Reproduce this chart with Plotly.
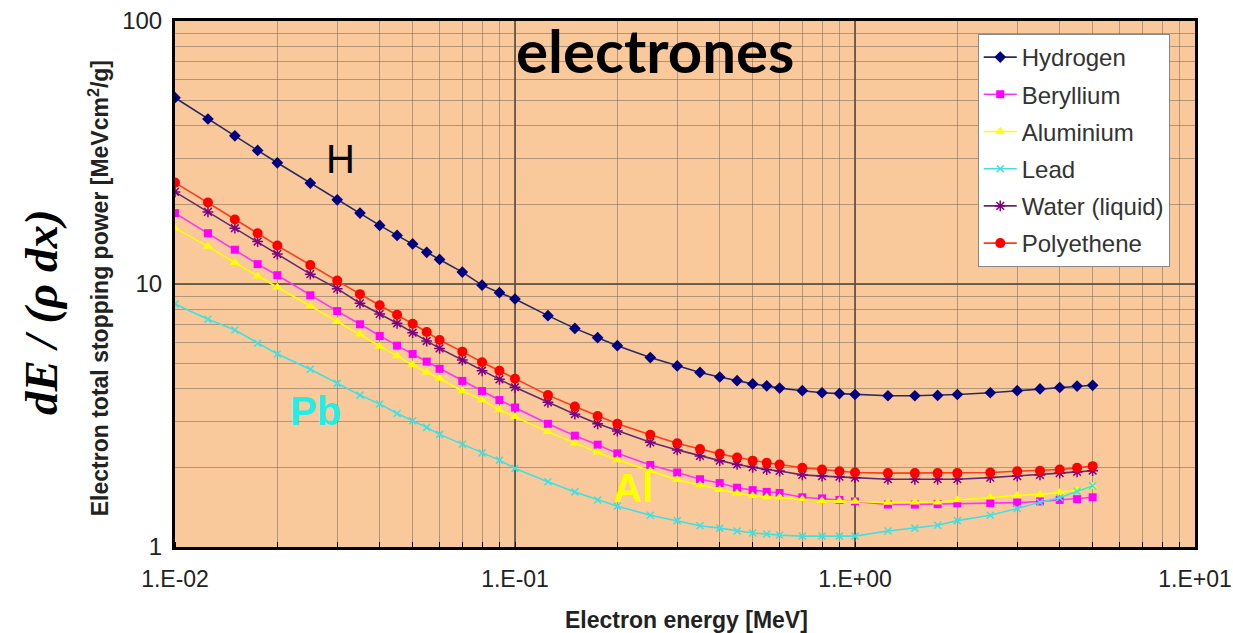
import plotly.graph_objects as go

# Electron energy [MeV]
energy = [0.01, 0.0125, 0.015, 0.0175, 0.02, 0.025, 0.03, 0.035, 0.04, 0.045,
          0.05, 0.055, 0.06, 0.07, 0.08, 0.09, 0.1, 0.125, 0.15, 0.175, 0.2,
          0.25, 0.3, 0.35, 0.4, 0.45, 0.5, 0.55, 0.6, 0.7, 0.8, 0.9, 1.0,
          1.25, 1.5, 1.75, 2.0, 2.5, 3.0, 3.5, 4.0, 4.5, 5.0]

# Total stopping power [MeV cm2/g]
hydrogen = [51.1, 42.4, 36.6, 32.2, 28.9, 24.2, 20.9, 18.6, 16.7, 15.3, 14.2, 13.2,
            12.4, 11.1, 9.9, 9.27, 8.77,
            7.58, 6.78, 6.25, 5.83, 5.25, 4.88, 4.61, 4.43, 4.29, 4.17, 4.10, 4.02,
            3.93, 3.86, 3.83, 3.80,
            3.76, 3.76, 3.77, 3.80, 3.86, 3.93, 3.99, 4.04, 4.09, 4.12]
beryllium = [18.6, 15.6, 13.5, 11.9, 10.8, 9.06, 7.89, 7.03, 6.34, 5.83, 5.42, 5.07,
             4.76, 4.28, 3.92, 3.62, 3.39,
             2.94, 2.65, 2.45, 2.27, 2.05, 1.92, 1.81, 1.75, 1.68, 1.645, 1.62, 1.605,
             1.545, 1.53, 1.51, 1.49,
             1.45, 1.45, 1.455, 1.465, 1.47, 1.475, 1.49, 1.51, 1.52, 1.545]
aluminium = [16.3, 13.9, 12.05, 10.7, 9.72, 8.25, 7.19, 6.44, 5.78, 5.32, 4.92, 4.62,
             4.37, 3.92, 3.62, 3.32, 3.13,
             2.74, 2.48, 2.29, 2.14, 1.95, 1.80, 1.72, 1.65, 1.60, 1.565, 1.55, 1.545,
             1.52, 1.50, 1.50, 1.49,
             1.475, 1.48, 1.48, 1.51, 1.545, 1.57, 1.585, 1.61, 1.65, 1.70]
lead = [8.39, 7.34, 6.68, 5.95, 5.42, 4.74, 4.19, 3.78, 3.50, 3.22, 3.02, 2.85,
        2.68, 2.46, 2.28, 2.14, 1.99,
        1.77, 1.62, 1.51, 1.43, 1.32, 1.26, 1.205, 1.18, 1.15, 1.13, 1.12, 1.11,
        1.10, 1.10, 1.10, 1.10,
        1.15, 1.18, 1.21, 1.26, 1.32, 1.40, 1.48, 1.54, 1.63, 1.71]
water = [22.4, 18.8, 16.3, 14.5, 13.0, 10.9, 9.6, 8.45, 7.69, 7.09, 6.53, 6.07,
         5.69, 5.14, 4.68, 4.34, 4.05,
         3.55, 3.20, 2.94, 2.76, 2.50, 2.34, 2.22, 2.13, 2.06, 2.01, 1.97, 1.945,
         1.88, 1.86, 1.85, 1.835,
         1.81, 1.81, 1.81, 1.81, 1.836, 1.86, 1.88, 1.91, 1.93, 1.95]
polyethene = [24.3, 20.4, 17.6, 15.6, 14.0, 11.8, 10.3, 9.15, 8.30, 7.64, 7.06, 6.57,
              6.12, 5.53, 5.04, 4.68, 4.36,
              3.78, 3.42, 3.15, 2.94, 2.67, 2.48, 2.36, 2.26, 2.19, 2.13, 2.09, 2.06,
              2.00, 1.97, 1.94, 1.92,
              1.91, 1.91, 1.91, 1.91, 1.92, 1.94, 1.95, 1.97, 2.00, 2.03]

series_names = ["Hydrogen", "Beryllium", "Aluminium", "Lead", "Water (liquid)", "Polyethene"]
series_values = [hydrogen, beryllium, aluminium, lead, water, polyethene]

x_tickvals = [0.01, 0.1, 1, 10]
x_ticktext = ["1.E-02", "1.E-01", "1.E+00", "1.E+01"]
y_tickvals = [1, 10, 100]
y_ticktext = ["1", "10", "100"]

styles = [
    dict(line=dict(color="#2a2a60", width=1.6),
         marker=dict(symbol="diamond", size=9, color="#000080")),
    dict(line=dict(color="#ff33ff", width=1.6),
         marker=dict(symbol="square", size=8, color="#ff00ff")),
    dict(line=dict(color="#ffff00", width=1.6),
         marker=dict(symbol="triangle-up", size=9, color="#ffff00")),
    dict(line=dict(color="#40e0e0", width=1.6),
         marker=dict(symbol="x-thin-open", size=7, color="#40e0e0",
                     line=dict(color="#40e0e0", width=1.5))),
    dict(line=dict(color="#6a2a6a", width=1.6),
         marker=dict(symbol="asterisk-open", size=9, color="#800080",
                     line=dict(color="#800080", width=1.5))),
    dict(line=dict(color="#ff3b1a", width=1.6),
         marker=dict(symbol="circle", size=10, color="#ff0000")),
]

fig = go.Figure()
for i, (name, vals) in enumerate(zip(series_names, series_values)):
    fig.add_trace(go.Scatter(x=energy, y=vals, name=name, mode="lines+markers",
                             legendgroup=f"g{i}", **styles[i]))

x_font = dict(family="Liberation Sans, Arial", size=23, color="#222222")
y_font = dict(family="Liberation Sans, Arial", size=24, color="#222222")
major_grid = "rgba(95,80,65,0.85)"
minor_grid = "rgba(120,105,90,0.55)"

fig.update_layout(
    width=1233, height=633,
    margin=dict(l=175, r=38, t=21, b=86),
    paper_bgcolor="white",
    plot_bgcolor="#f9c99b",
    showlegend=True,
    legend=dict(x=0.787, y=0.9753, xanchor="left", yanchor="top",
                bgcolor="white", bordercolor="#888888", borderwidth=1,
                font=dict(family="Liberation Sans, Arial", size=24, color="#333333"),
                itemwidth=33, tracegroupgap=3),
    xaxis=dict(type="log", range=[-2, 1], tickmode="array", automargin=False,
               tickvals=x_tickvals, ticktext=x_ticktext, tickfont=x_font,
               ticks="", ticklabelstandoff=9, ticklabeloverflow="allow",
               showgrid=True, gridcolor=major_grid, gridwidth=1.6,
               minor=dict(dtick="D1", showgrid=True, gridcolor=minor_grid, gridwidth=1,
                          ticks="inside", ticklen=5, tickcolor="black"),
               showline=True, linecolor="black", linewidth=3, mirror=True,
               zeroline=False),
    yaxis=dict(type="log", range=[0, 2], tickmode="array", automargin=False,
               tickvals=y_tickvals, ticktext=y_ticktext, tickfont=y_font,
               ticks="", ticklabelstandoff=5, ticklabeloverflow="allow",
               showgrid=True, gridcolor=major_grid, gridwidth=1.6,
               minor=dict(dtick="D1", showgrid=True, gridcolor=minor_grid, gridwidth=1),
               showline=True, linecolor="black", linewidth=3, mirror=True,
               zeroline=False),
)

def note(text, x, y, size, color="black", family="Liberation Sans, Arial", angle=0):
    return dict(text=text, x=x, y=y, xref="paper", yref="paper", showarrow=False,
                xanchor="center", yanchor="middle", textangle=angle,
                font=dict(family=family, size=size, color=color))

annotations = [
    note("<b>electrones</b>", 0.4706, 0.9443, 60, family="Lato"),
    note("H", 0.1618, 0.738, 40),
    note("<b>Pb</b>", 0.1382, 0.2593, 40, color="#22eee6"),
    note("<b>Al</b>", 0.449, 0.1122, 40, color="#ffff00"),
    note("<b>Electron energy [MeV]</b>", 0.501, -0.1388, 23, color="#222222"),
    note("<b>Electron total stopping power [MeVcm<sup>2</sup>/g]</b>", -0.0745, 0.492, 23,
         color="#222222", angle=-90),
    note("<b><i>dE / (ρ dx)</i></b>", -0.1314, 0.4468, 47,
         family="Liberation Serif, Times New Roman", angle=-90),
]
fig.update_layout(annotations=annotations)

# remove the default page margin so the figure fills the window exactly
fig.write_html("out.html", config={"displayModeBar": False},
               post_script="document.body.style.margin='0';document.body.style.overflow='hidden';")
